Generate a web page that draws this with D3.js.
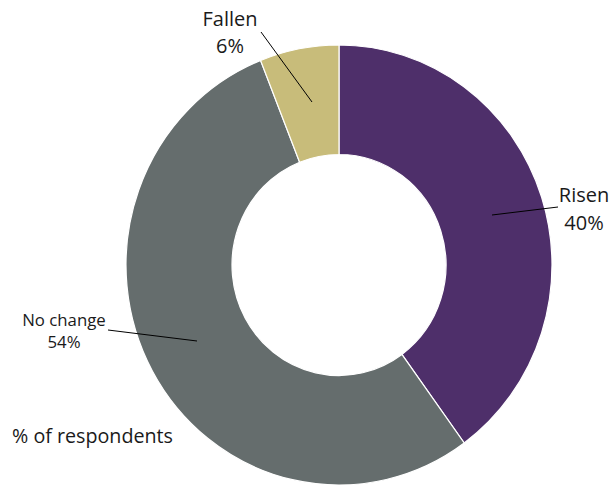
<!DOCTYPE html>
<html>
<head>
<meta charset="utf-8">
<script src="https://cdn.jsdelivr.net/npm/d3@7/dist/d3.min.js"></script>
<style>
  html, body { margin: 0; padding: 0; background: #ffffff; }
  svg { display: block; font-family: "Open Sans", sans-serif; }
</style>
</head>
<body>
<svg id="chart" width="609" height="487"></svg>
<script>
// Share of respondents, clockwise from 12 o'clock
const categories = ["Risen", "No change", "Fallen"];
const values = [40, 54, 6];
const colors = ["#4e2f6a", "#656d6d", "#c8bc7a"];

const svg = d3.select("#chart");
const cx = 339, cy = 265;
const outerR = 213, innerR = 107;
const yStretch = 220 / 213;

const pie = d3.pie().sort(null).value(d => d.value);
const arcs = pie(categories.map((c, i) => ({ name: c, value: values[i], color: colors[i] })));
const arc = d3.arc().innerRadius(innerR).outerRadius(outerR);

const ring = svg.append("g")
  .attr("transform", `translate(${cx},${cy}) scale(1,${yStretch})`);

ring.selectAll("path")
  .data(arcs)
  .join("path")
  .attr("d", arc)
  .attr("fill", d => d.data.color)
  .attr("stroke", "#ffffff")
  .attr("stroke-width", 1.2)
  .attr("vector-effect", "non-scaling-stroke");

// Label layout per slice: leader line endpoints, text anchor, size, line gap
const labelSpec = {
  "Risen":     { line: [[492, 215], [558, 207]], text: [584, 202], size: 20, gap: 28 },
  "No change": { line: [[197, 341], [108, 330]], text: [64, 326], size: 16.8, gap: 22 },
  "Fallen":    { line: [[312, 102], [261, 32]], text: [230, 26], size: 20, gap: 27 }
};

const labels = svg.append("g");
arcs.forEach(d => {
  const s = labelSpec[d.data.name];
  labels.append("line")
    .attr("x1", s.line[0][0]).attr("y1", s.line[0][1])
    .attr("x2", s.line[1][0]).attr("y2", s.line[1][1])
    .attr("stroke", "#000000")
    .attr("stroke-width", 1);
  const t = labels.append("text")
    .attr("x", s.text[0]).attr("y", s.text[1])
    .attr("text-anchor", "middle")
    .attr("font-size", s.size)
    .attr("fill", "#1a1a1a");
  t.append("tspan").attr("x", s.text[0]).text(d.data.name);
  t.append("tspan").attr("x", s.text[0]).attr("dy", s.gap).text(d.data.value + "%");
});

svg.append("text")
  .attr("x", 12).attr("y", 443)
  .attr("font-size", 19.7)
  .attr("fill", "#1a1a1a")
  .text("% of respondents");
</script>
</body>
</html>
